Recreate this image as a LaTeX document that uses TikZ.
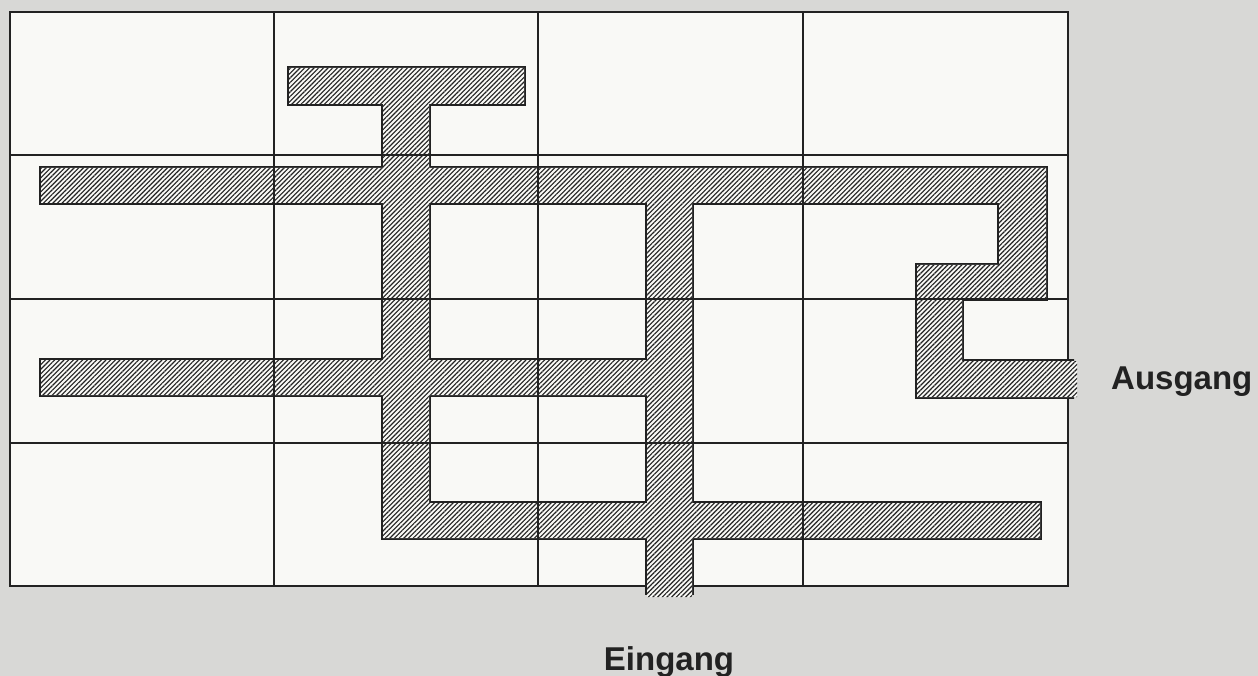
\documentclass[tikz,border=0pt]{standalone}
\usepackage{fontspec}
\usepackage{tikz}
\usepackage{xcolor}
\usetikzlibrary{patterns.meta}
\newfontfamily\labelfont{Liberation Sans}

\definecolor{paper}{HTML}{D8D8D6}
\definecolor{cellwhite}{HTML}{F9F9F6}
\definecolor{ink}{HTML}{222222}

\newcommand{\corridors}{
  (289,68) rectangle (524,104)
  (383,68) rectangle (429,538)
  (41,168) rectangle (1046,203)
  (41,360) rectangle (692,395)
  (383,503) rectangle (1040,538)
  (647,168) rectangle (692,597)
  (999,168) rectangle (1046,299)
  (917,265) rectangle (1046,299)
  (917,265) rectangle (962,397)
  (917,361) rectangle (1077,397)}

\begin{document}
\begin{tikzpicture}[x=1pt, y=-1pt, line join=miter,
    gridline/.style={ink, line width=1.5pt},
    wallout/.style={draw=ink, line width=3.4pt},
    hatch/.style={pattern={Lines[angle=45,distance=3.3pt,line width=1.15pt]}, pattern color=ink},
    doorlabel/.style={font=\labelfont\bfseries\fontsize{33}{36}\selectfont, text=ink, inner sep=0pt}]
  \useasboundingbox (0,0) rectangle (1258,676);
  \fill[paper] (0,0) rectangle (1258,676);

  % plan of the rooms
  \coordinate (NW) at (10,12);
  \coordinate (SE) at (1068,586);
  \fill[cellwhite] (NW) rectangle (SE);
  \draw[gridline] (NW) rectangle (SE);

  % corridors, open at both doors
  \begin{scope}
    \clip (0,0) rectangle (1074,594);
    \path[wallout] \corridors;
  \end{scope}
  \fill[cellwhite] \corridors;
  \fill[hatch] \corridors;

  \foreach \x in {274,538,803}
    \draw[gridline] (\x,12) -- (\x,586);
  \foreach \y in {155,299,443}
    \draw[gridline] (10,\y) -- (1068,\y);

  \node[doorlabel, anchor=base west] (ausgang) at (1111,389) {Ausgang};
  \node[doorlabel, anchor=base] (eingang) at (669,670) {Eingang};
\end{tikzpicture}
\end{document}
